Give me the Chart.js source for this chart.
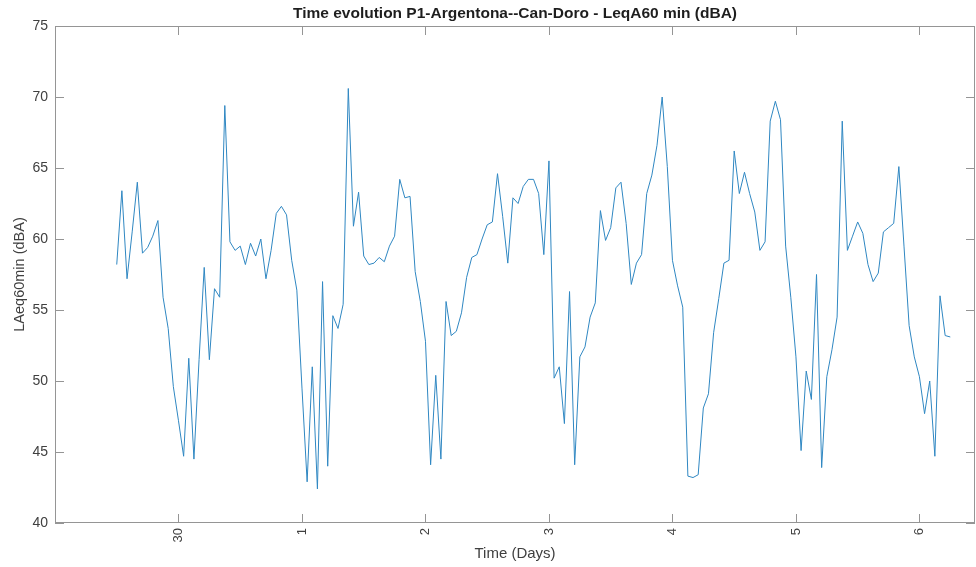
<!DOCTYPE html>
<html>
<head>
<meta charset="utf-8">
<script src="https://cdn.jsdelivr.net/npm/chart.js@4.4.0/dist/chart.umd.min.js"></script>
<style>
  html, body { margin: 0; padding: 0; background: #fff; }
  #wrap { width: 976px; height: 567px; }
</style>
</head>
<body>
<div id="wrap"><canvas id="leqChart"></canvas></div>
<script>
// hourly LAeq 60 min values (dBA), first sample at noon of day 29
const startDay = -0.5;
const hoursPerDay = 24;
const leqValues = [
  58.2, 63.4, 57.2, 60.5, 64.0, 59.0, 59.4, 60.2, 61.3, 55.9, 53.7, 49.6, 47.2, 44.7, 51.6, 44.5,
  51.5, 58.0, 51.5, 56.5, 55.9, 69.4, 59.8, 59.2, 59.5, 58.2, 59.7, 58.8, 60.0, 57.2, 59.2, 61.8,
  62.3, 61.7, 58.5, 56.4, 49.5, 42.9, 51.0, 42.4, 57.0, 44.0, 54.6, 53.7, 55.4, 70.6, 60.9, 63.3,
  58.8, 58.2, 58.3, 58.7, 58.4, 59.5, 60.2, 64.2, 62.9, 63.0, 57.7, 55.6, 52.8, 44.1, 50.4, 44.5,
  55.6, 53.2, 53.5, 54.8, 57.3, 58.7, 58.9, 60.0, 61.0, 61.2, 64.6, 61.6, 58.3, 62.9, 62.5, 63.7,
  64.2, 64.2, 63.2, 58.9, 65.5, 50.2, 51.0, 47.0, 56.3, 44.1, 51.7, 52.4, 54.5, 55.5, 62.0, 59.9,
  60.8, 63.6, 64.0, 61.1, 56.8, 58.3, 58.9, 63.2, 64.5, 66.6, 70.0, 65.1, 58.5, 56.7, 55.2, 43.3,
  43.2, 43.4, 48.1, 49.1, 53.4, 55.8, 58.3, 58.5, 66.2, 63.2, 64.7, 63.2, 61.9, 59.2, 59.8, 68.3,
  69.7, 68.4, 59.5, 55.9, 51.7, 45.1, 50.7, 48.7, 57.5, 43.9, 50.3, 52.2, 54.5, 68.3, 59.2, 60.2,
  61.2, 60.4, 58.2, 57.0, 57.6, 60.5, 60.8, 61.1, 65.1, 59.5, 53.9, 51.7, 50.3, 47.7, 50.0, 44.7,
  56.0, 53.2, 53.1
];
const dayTicks = [0, 1, 2, 3, 4, 5, 6];
const dayLabels = ['30', '1', '2', '3', '4', '5', '6'];
const yMin = 40, yMax = 75, yStep = 5;

const points = leqValues.map((v, i) => ({ x: startDay + i / hoursPerDay, y: v }));

const axisColor = '#959595';
const textColor = '#404040';
const fontFamily = 'Liberation Sans';

// MATLAB style box with inward ticks on all four sides, plus
// x tick labels turned 90 degrees (reading bottom to top)
const framePlugin = {
  id: 'frame',
  afterDatasetsDraw(chart) {
    const { ctx, chartArea: a, scales: { x, y } } = chart;
    const len = 9;
    ctx.save();
    ctx.strokeStyle = axisColor;
    ctx.lineWidth = 1;
    ctx.strokeRect(a.left + 0.5, a.top + 0.5, a.right - a.left - 1, a.bottom - a.top - 1);
    ctx.beginPath();
    x.ticks.forEach(t => {
      const px = Math.round(x.getPixelForValue(t.value)) + 0.5;
      ctx.moveTo(px, a.bottom); ctx.lineTo(px, a.bottom - len);
      ctx.moveTo(px, a.top); ctx.lineTo(px, a.top + len);
    });
    y.ticks.forEach(t => {
      const py = Math.round(y.getPixelForValue(t.value)) + 0.5;
      ctx.moveTo(a.left, py); ctx.lineTo(a.left + len, py);
      ctx.moveTo(a.right, py); ctx.lineTo(a.right - len, py);
    });
    ctx.stroke();

    ctx.fillStyle = textColor;
    ctx.font = '13px "' + fontFamily + '"';
    ctx.textAlign = 'right';
    ctx.textBaseline = 'middle';
    x.ticks.forEach(t => {
      const px = x.getPixelForValue(t.value);
      ctx.save();
      ctx.translate(px, a.bottom + 5);
      ctx.rotate(-Math.PI / 2);
      ctx.fillText(dayLabels[dayTicks.indexOf(t.value)], 0, 0);
      ctx.restore();
    });
    ctx.restore();
  }
};

new Chart(document.getElementById('leqChart'), {
  type: 'line',
  data: {
    datasets: [{
      data: points,
      borderColor: '#2f87c2',
      borderWidth: 1,
      pointRadius: 0,
      tension: 0,
      fill: false
    }]
  },
  options: {
    responsive: true,
    maintainAspectRatio: false,
    animation: false,
    layout: { padding: { left: 0, right: 1, top: 0, bottom: 0 } },
    plugins: {
      legend: { display: false },
      tooltip: { enabled: false },
      title: {
        display: true,
        fullSize: false,
        text: 'Time evolution P1-Argentona--Can-Doro - LeqA60 min (dBA)',
        color: '#1e1e1e',
        font: { family: fontFamily, size: 15.5, weight: 'bold' },
        padding: { top: 4, bottom: 3.4 }
      }
    },
    scales: {
      x: {
        type: 'linear',
        min: -1,
        max: 6.45,
        afterBuildTicks(scale) {
          scale.ticks = dayTicks.map(v => ({ value: v }));
        },
        afterFit(scale) { scale.height = 44; },
        grid: { display: false, drawTicks: false },
        border: { display: false },
        ticks: { display: false },
        title: {
          display: true,
          text: 'Time (Days)',
          color: textColor,
          font: { family: fontFamily, size: 15 },
          padding: { top: 0, bottom: 4 }
        }
      },
      y: {
        min: yMin,
        max: yMax,
        afterFit(scale) { scale.width = 55; },
        grid: { display: false, drawTicks: false },
        border: { display: false },
        ticks: {
          stepSize: yStep,
          padding: 7,
          color: textColor,
          font: { family: fontFamily, size: 14 }
        },
        title: {
          display: true,
          text: 'LAeq60min (dBA)',
          color: textColor,
          font: { family: fontFamily, size: 14.5 },
          padding: { top: 11, bottom: 0 }
        }
      }
    }
  },
  plugins: [framePlugin]
});
</script>
</body>
</html>
